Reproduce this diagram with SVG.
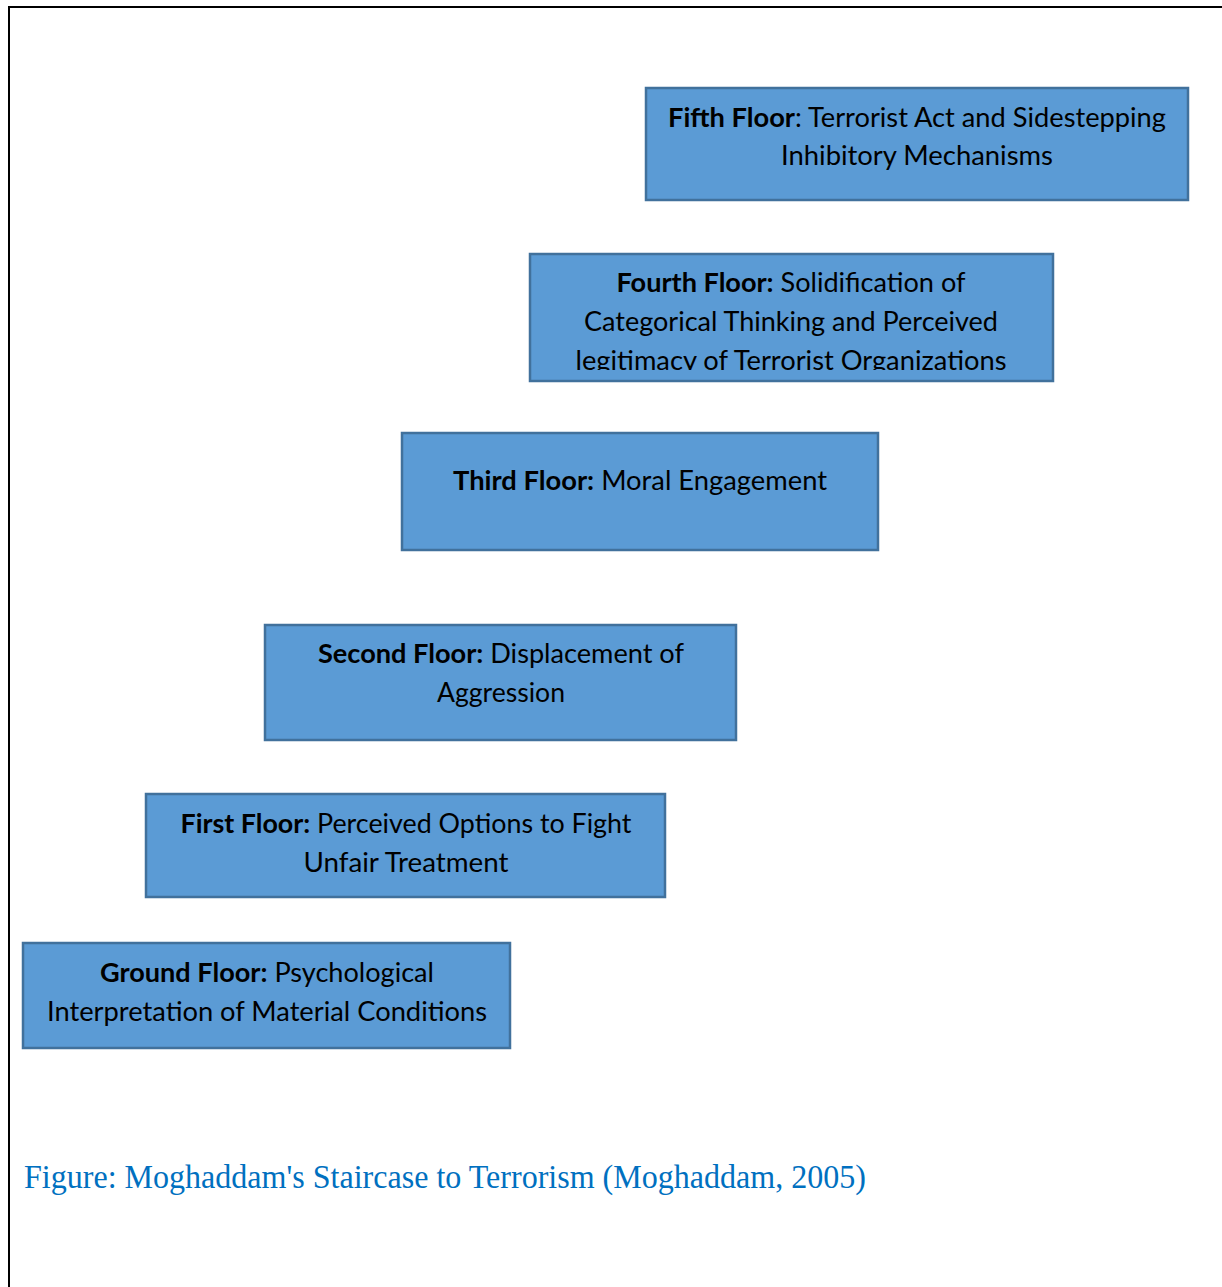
<svg xmlns="http://www.w3.org/2000/svg" width="1222" height="1287" viewBox="0 0 1222 1287">
<style>
.box{fill:#5B9BD5;stroke:#41719C;stroke-width:2.5}
.t{font-family:Lato,"Open Sans","Liberation Sans",sans-serif;font-size:27px;fill:#000;text-anchor:middle}
.b{font-weight:bold}
.cap{font-family:"Liberation Serif","Times New Roman",serif;font-size:34px;fill:#0070C0}
</style>
<defs>
<clipPath id="clip4"><rect x="531" y="255" width="521" height="115"/></clipPath>
</defs>
<rect width="1222" height="1287" fill="#fff"/>
<path d="M9,1287 V7 H1222" fill="none" stroke="#000" stroke-width="2"/>
<g id="connectors"></g>
<g id="fifth-floor">
<rect class="box" x="646" y="88" width="542" height="112"/>
<text class="t" x="917" y="127" textLength="498" lengthAdjust="spacingAndGlyphs"><tspan class="b">Fifth Floor</tspan>: Terrorist Act and Sidestepping</text>
<text class="t" x="917" y="165" textLength="272" lengthAdjust="spacingAndGlyphs">Inhibitory Mechanisms</text>
</g>
<g id="fourth-floor">
<rect class="box" x="530" y="254" width="523" height="127"/>
<g clip-path="url(#clip4)">
<text class="t" x="791" y="292" textLength="349" lengthAdjust="spacingAndGlyphs"><tspan class="b">Fourth Floor:</tspan> Solidification of</text>
<text class="t" x="791" y="331" textLength="414" lengthAdjust="spacingAndGlyphs">Categorical Thinking and Perceived</text>
<text class="t" x="791" y="370" textLength="431" lengthAdjust="spacingAndGlyphs">legitimacy of Terrorist Organizations</text>
</g>
</g>
<g id="third-floor">
<rect class="box" x="402" y="433" width="476" height="117"/>
<text class="t" x="640" y="490" textLength="374" lengthAdjust="spacingAndGlyphs"><tspan class="b">Third Floor:</tspan> Moral Engagement</text>
</g>
<g id="second-floor">
<rect class="box" x="265" y="625" width="471" height="115"/>
<text class="t" x="501" y="663" textLength="366" lengthAdjust="spacingAndGlyphs"><tspan class="b">Second Floor:</tspan> Displacement of</text>
<text class="t" x="501" y="702" textLength="128" lengthAdjust="spacingAndGlyphs">Aggression</text>
</g>
<g id="first-floor">
<rect class="box" x="146" y="794" width="519" height="103"/>
<text class="t" x="406" y="833" textLength="451" lengthAdjust="spacingAndGlyphs"><tspan class="b">First Floor:</tspan> Perceived Options to Fight</text>
<text class="t" x="406" y="872" textLength="205" lengthAdjust="spacingAndGlyphs">Unfair Treatment</text>
</g>
<g id="ground-floor">
<rect class="box" x="23" y="943" width="487" height="105"/>
<text class="t" x="267" y="982" textLength="334" lengthAdjust="spacingAndGlyphs"><tspan class="b">Ground Floor:</tspan> Psychological</text>
<text class="t" x="267" y="1021" textLength="440" lengthAdjust="spacingAndGlyphs">Interpretation of Material Conditions</text>
</g>
<text class="cap" x="24" y="1188" textLength="842" lengthAdjust="spacingAndGlyphs">Figure: Moghaddam's Staircase to Terrorism (Moghaddam, 2005)</text>
</svg>
